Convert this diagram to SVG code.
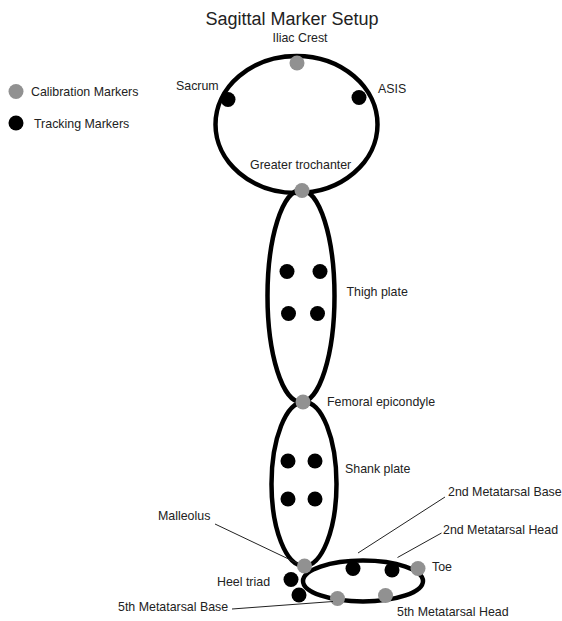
<svg xmlns="http://www.w3.org/2000/svg" width="562" height="621" viewBox="0 0 562 621">
<style>
  .seg { fill: none; stroke: #000; stroke-width: 4.5; }
  .cal { fill: #919191; }
  .trk { fill: #000; }
  .lbl { font-family: "Liberation Sans", Arial, sans-serif; font-size: 12.4px; fill: #222; }
  .title { font-family: "Liberation Sans", Arial, sans-serif; font-size: 18px; fill: #222; }
  .lead { stroke: #222; stroke-width: 1; fill: none; }
</style>
<rect width="562" height="621" fill="#fff"/>
<text class="title" x="292" y="25" text-anchor="middle">Sagittal Marker Setup</text>

<g id="legend">
  <circle class="cal" cx="16" cy="91.5" r="7.5"/>
  <text class="lbl" x="31" y="95.5">Calibration Markers</text>
  <circle class="trk" cx="16" cy="123" r="7.5"/>
  <text class="lbl" x="34" y="127.5">Tracking Markers</text>
</g>

<g id="pelvis">
  <ellipse class="seg" cx="296.5" cy="124.5" rx="81" ry="68.5"/>
  <circle class="cal" cx="297" cy="63" r="7.5"/>
  <circle class="trk" cx="228" cy="99.5" r="7.5"/>
  <circle class="trk" cx="359" cy="97.5" r="7.5"/>
  <text class="lbl" x="300" y="42" text-anchor="middle">Iliac Crest</text>
  <text class="lbl" x="176" y="90">Sacrum</text>
  <text class="lbl" x="378" y="93">ASIS</text>
</g>

<g id="thigh">
  <ellipse class="seg" cx="301" cy="296" rx="33.5" ry="106"/>
  <circle class="trk" cx="287" cy="271.5" r="7.5"/>
  <circle class="trk" cx="320" cy="271.5" r="7.5"/>
  <circle class="trk" cx="288.5" cy="313.5" r="7.5"/>
  <circle class="trk" cx="317.5" cy="313.5" r="7.5"/>
  <text class="lbl" x="346.5" y="295.5">Thigh plate</text>
</g>

<g id="shank">
  <ellipse class="seg" cx="304" cy="484" rx="32.5" ry="82"/>
  <circle class="trk" cx="288" cy="461" r="7.5"/>
  <circle class="trk" cx="315" cy="461" r="7.5"/>
  <circle class="trk" cx="288" cy="499" r="7.5"/>
  <circle class="trk" cx="315" cy="499" r="7.5"/>
  <text class="lbl" x="345" y="473">Shank plate</text>
</g>

<g id="foot">
  <ellipse class="seg" cx="363" cy="581" rx="60" ry="20.5"/>
  <circle class="trk" cx="353" cy="568.5" r="7.5"/>
  <circle class="trk" cx="392" cy="570" r="7.5"/>
  <circle class="cal" cx="418" cy="568.5" r="7.5"/>
  <circle class="cal" cx="337.5" cy="598.5" r="7.5"/>
  <circle class="cal" cx="385.5" cy="595.5" r="7.5"/>
  <circle class="trk" cx="291" cy="579.5" r="7.5"/>
  <circle class="trk" cx="299" cy="595" r="7.5"/>
  <text class="lbl" x="432" y="571">Toe</text>
  <text class="lbl" x="217" y="586">Heel triad</text>
  <text class="lbl" x="448" y="496">2nd Metatarsal Base</text>
  <text class="lbl" x="443" y="533.5">2nd Metatarsal Head</text>
  <text class="lbl" x="118" y="611">5th Metatarsal Base</text>
  <text class="lbl" x="397" y="615.5">5th Metatarsal Head</text>
</g>

<g id="joints">
  <circle class="cal" cx="302" cy="190.5" r="7.5"/>
  <text class="lbl" x="250" y="169">Greater trochanter</text>
  <circle class="cal" cx="303" cy="402" r="7.5"/>
  <text class="lbl" x="327" y="405.5">Femoral epicondyle</text>
  <circle class="cal" cx="304.5" cy="566" r="7.5"/>
  <text class="lbl" x="158" y="519.5">Malleolus</text>
</g>

<g id="connectors">
  <line class="lead" x1="215" y1="524" x2="297" y2="563"/>
  <line class="lead" x1="445" y1="497" x2="358" y2="553"/>
  <line class="lead" x1="441.5" y1="533" x2="397.5" y2="557.5"/>
  <line class="lead" x1="232" y1="609" x2="333" y2="601.5"/>
</g>
</svg>
